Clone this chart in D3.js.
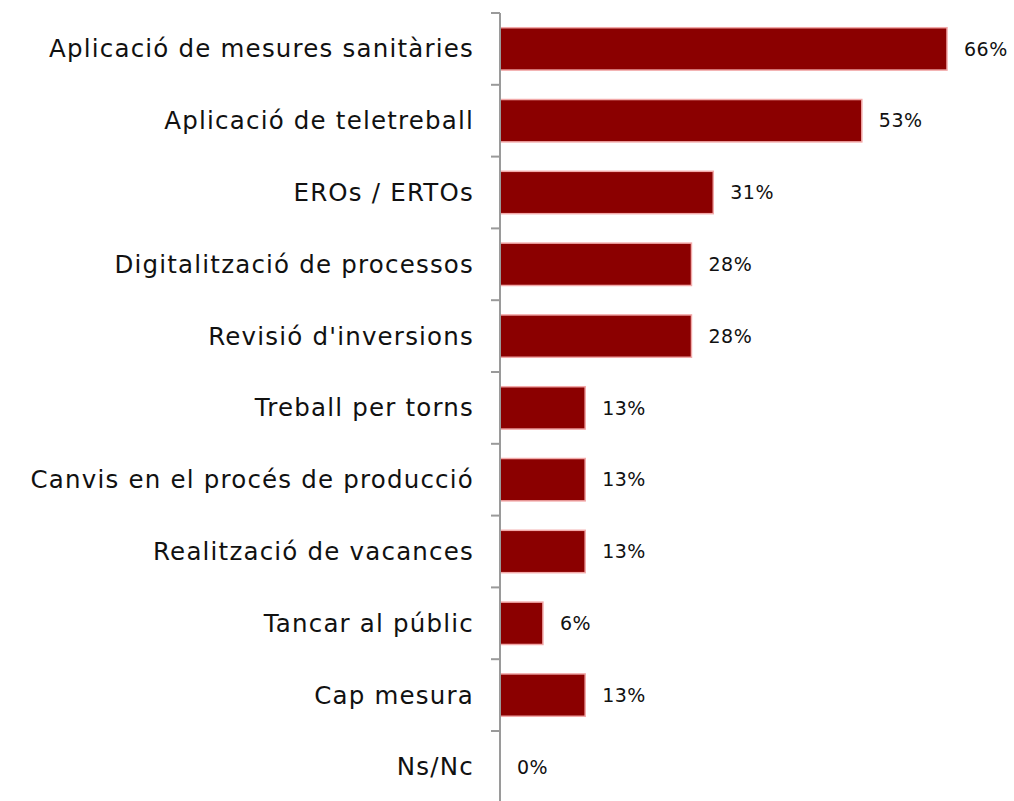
<!DOCTYPE html>
<html><head><meta charset="utf-8">
<script src="https://cdn.jsdelivr.net/npm/d3@7"></script>
<style>body{margin:0;background:#fff}svg{display:block}</style>
</head><body>
<svg id="c" width="1014" height="801"></svg>
<script>
const categories = ["Aplicació de mesures sanitàries","Aplicació de teletreball","EROs / ERTOs","Digitalització de processos","Revisió d'inversions","Treball per torns","Canvis en el procés de producció","Realització de vacances","Tancar al públic","Cap mesura","Ns/Nc"];
const values = [65.6, 53.1, 31.3, 28.1, 28.1, 12.5, 12.5, 12.5, 6.3, 12.5, 0];

const svg = d3.select("#c");
const x0 = 500;
const x = d3.scaleLinear().domain([0, 65.6]).range([x0, 947]);
const y = d3.scaleBand().domain(categories).range([13, 13 + 71.8*11]).paddingInner(0.41).paddingOuter(0.205);
const font = "'DejaVu Sans', sans-serif";

// bars
svg.selectAll("rect.bar").data(values).join("rect")
  .attr("x", x0).attr("y", (d,i)=>y(categories[i]))
  .attr("width", d=>Math.max(0, x(d)-x0)).attr("height", y.bandwidth())
  .attr("fill", d=>d>0?"#8B0000":"none").attr("stroke", d=>d>0?"#F2A9A9":"none").attr("stroke-width",1.5);

// axis
svg.append("line").attr("x1",x0).attr("x2",x0).attr("y1",13).attr("y2",801).attr("stroke","#9a9a9a").attr("stroke-width",2);
const step = y.step();
d3.range(12).forEach(k=>{
  svg.append("line").attr("x1",x0-9).attr("x2",x0).attr("y1",13+k*step).attr("y2",13+k*step).attr("stroke","#9a9a9a").attr("stroke-width",2);
});

// category labels
svg.selectAll("text.cat").data(categories).join("text")
  .attr("x", 474).attr("y", d=>y(d)+y.bandwidth()/2).attr("dy","0.35em")
  .attr("text-anchor","end").attr("font-family",font).attr("font-size",24.5).attr("letter-spacing","1.2px").attr("fill","#111")
  .text(d=>d);

// value labels
svg.selectAll("text.val").data(values).join("text")
  .attr("x", d=>x(d)+17).attr("y", (d,i)=>y(categories[i])+y.bandwidth()/2).attr("dy","0.35em")
  .attr("font-family",font).attr("font-size",19).attr("letter-spacing","0.5px").attr("fill","#111")
  .text(d=>Math.round(d)+"%");
</script>
</body></html>
